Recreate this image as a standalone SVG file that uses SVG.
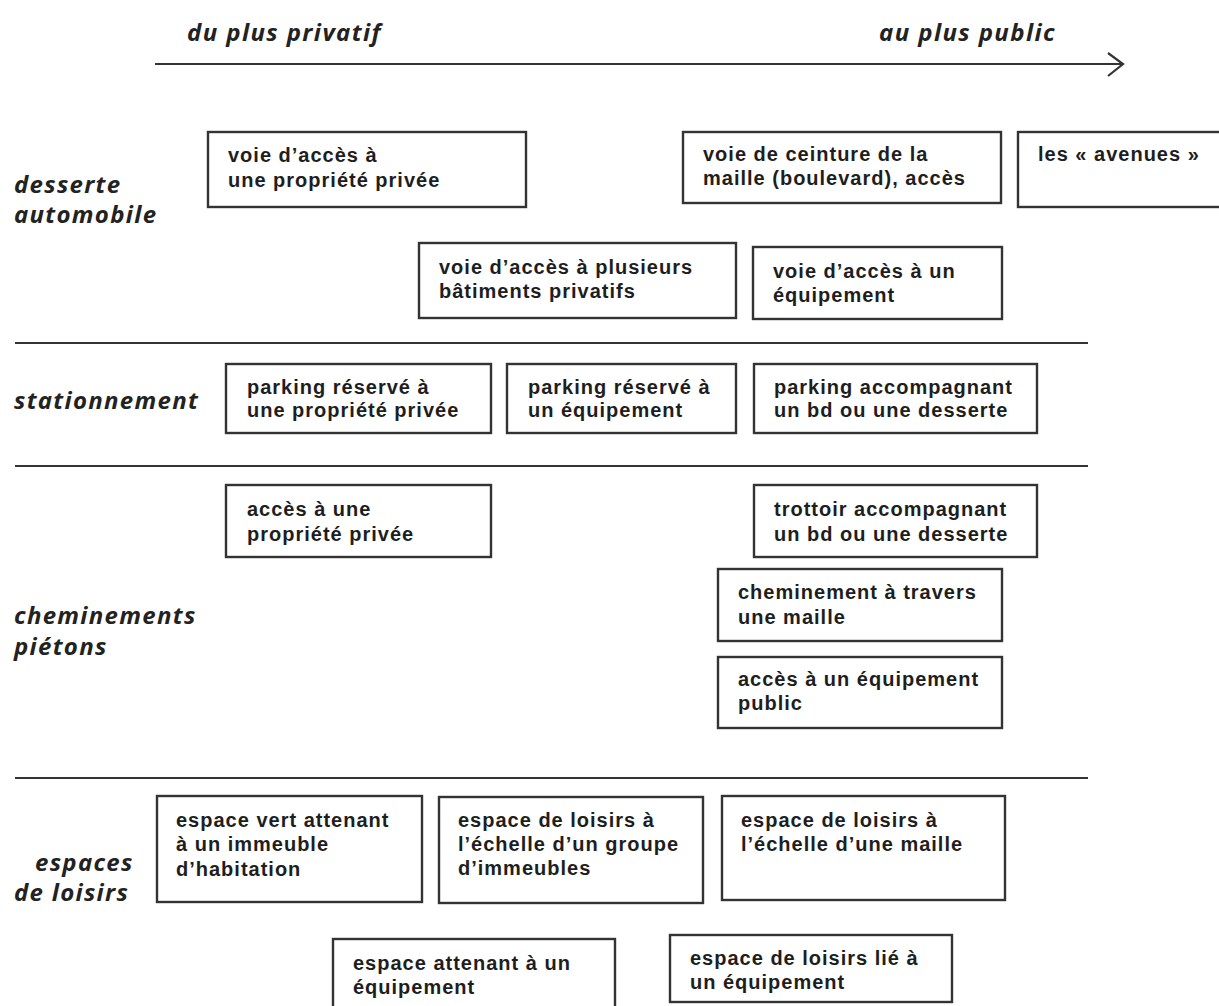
<svg xmlns="http://www.w3.org/2000/svg" width="1219" height="1006" viewBox="0 0 1219 1006">
<style>
.box{fill:#fff;stroke:#333;stroke-width:2.4}
.t{font-family:"Liberation Sans",Arial,sans-serif;font-weight:bold;font-size:20px;letter-spacing:1px;fill:#1e1e1e}
.lab{font-family:"Open Sans","DejaVu Sans",sans-serif;font-style:italic;font-weight:700;font-size:24px;letter-spacing:1.3px;fill:#222}
.top{font-family:"Open Sans","DejaVu Sans",sans-serif;font-style:italic;font-weight:700;font-size:24px;letter-spacing:1.4px;fill:#222}
.rule{stroke:#333;stroke-width:2.2;fill:none}
</style>
<rect width="1219" height="1006" fill="#fff"/>
<g id="axis">
<text class="top" x="187" y="41">du plus privatif</text>
<text class="top" x="879" y="41">au plus public</text>
<line class="rule" x1="155" y1="64" x2="1122" y2="64" stroke-width="3"/>
<polyline class="rule" points="1108,53 1123,64 1108,76" stroke-width="3"/>
</g>
<g id="rows">
<line class="rule" x1="15" y1="343" x2="1088" y2="343"/>
<line class="rule" x1="15" y1="466" x2="1088" y2="466"/>
<line class="rule" x1="15" y1="778" x2="1088" y2="778"/>
</g>
<g id="labels">
<text class="lab" x="14" y="193">desserte</text>
<text class="lab" x="14" y="223">automobile</text>
<text class="lab" x="14" y="409">stationnement</text>
<text class="lab" x="14" y="624">cheminements</text>
<text class="lab" x="14" y="655">piétons</text>
<text class="lab" x="35" y="871">espaces</text>
<text class="lab" x="14" y="901">de loisirs</text>
</g>
<g id="n1"><rect class="box" x="208" y="132" width="318" height="75"/><text class="t" x="228" y="162">voie d’accès à</text><text class="t" x="228" y="187">une propriété privée</text></g>
<g id="n2"><rect class="box" x="683" y="132" width="318" height="71"/><text class="t" x="703" y="161">voie de ceinture de la</text><text class="t" x="703" y="185">maille (boulevard), accès</text></g>
<g id="n3"><rect class="box" x="1018" y="132" width="215" height="75"/><text class="t" x="1038" y="161">les « avenues »</text></g>
<g id="n4"><rect class="box" x="419" y="243" width="317" height="75"/><text class="t" x="439" y="274">voie d’accès à plusieurs</text><text class="t" x="439" y="298">bâtiments privatifs</text></g>
<g id="n5"><rect class="box" x="753" y="247" width="249" height="72"/><text class="t" x="773" y="278">voie d’accès à un</text><text class="t" x="773" y="302">équipement</text></g>
<g id="n6"><rect class="box" x="226" y="364" width="265" height="69"/><text class="t" x="247" y="394">parking réservé à</text><text class="t" x="247" y="417">une propriété privée</text></g>
<g id="n7"><rect class="box" x="507" y="364" width="229" height="69"/><text class="t" x="528" y="394">parking réservé à</text><text class="t" x="528" y="417">un équipement</text></g>
<g id="n8"><rect class="box" x="754" y="364" width="283" height="69"/><text class="t" x="774" y="394">parking accompagnant</text><text class="t" x="774" y="417">un bd ou une desserte</text></g>
<g id="n9"><rect class="box" x="226" y="485" width="265" height="72"/><text class="t" x="247" y="516">accès à  une</text><text class="t" x="247" y="541">propriété privée</text></g>
<g id="n10"><rect class="box" x="754" y="485" width="283" height="72"/><text class="t" x="774" y="516">trottoir accompagnant</text><text class="t" x="774" y="541">un bd ou une desserte</text></g>
<g id="n11"><rect class="box" x="718" y="569" width="284" height="72"/><text class="t" x="738" y="599">cheminement à travers</text><text class="t" x="738" y="624">une maille</text></g>
<g id="n12"><rect class="box" x="718" y="657" width="284" height="71"/><text class="t" x="738" y="686">accès à un équipement</text><text class="t" x="738" y="710">public</text></g>
<g id="n13"><rect class="box" x="157" y="796" width="265" height="106"/><text class="t" x="176" y="827">espace vert attenant</text><text class="t" x="176" y="851">à un immeuble</text><text class="t" x="176" y="876">d’habitation</text></g>
<g id="n14"><rect class="box" x="439" y="797" width="264" height="106"/><text class="t" x="458" y="827">espace de loisirs à</text><text class="t" x="458" y="851">l’échelle d’un groupe</text><text class="t" x="458" y="875">d’immeubles</text></g>
<g id="n15"><rect class="box" x="722" y="796" width="283" height="104"/><text class="t" x="741" y="827">espace de loisirs à</text><text class="t" x="741" y="851">l’échelle d’une maille</text></g>
<g id="n16"><rect class="box" x="333" y="939" width="282" height="75"/><text class="t" x="353" y="970">espace attenant à un</text><text class="t" x="353" y="994">équipement</text></g>
<g id="n17"><rect class="box" x="670" y="935" width="282" height="67"/><text class="t" x="690" y="965">espace de loisirs lié à</text><text class="t" x="690" y="989">un équipement</text></g>
<g id="connectors"></g>
</svg>
